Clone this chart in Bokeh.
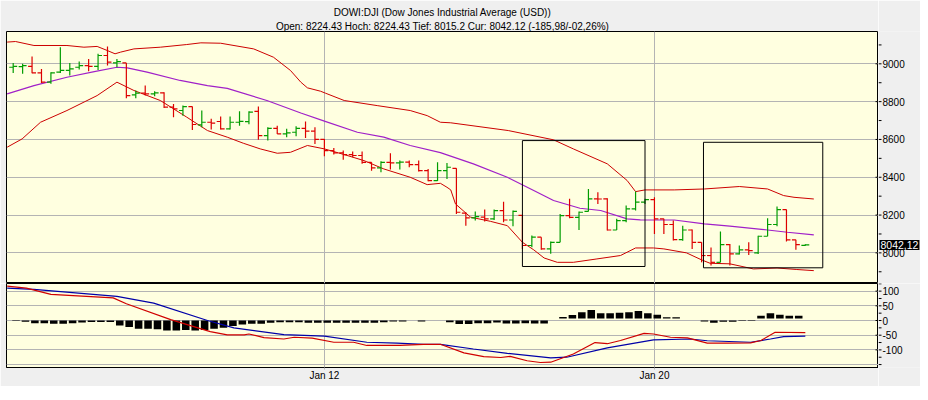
import numpy as np
from bokeh.plotting import figure
from bokeh.models import Range1d, FixedTicker, Grid, Title, Label, ColumnDataSource
from bokeh.layouts import column, row
from bokeh.embed import file_html
from bokeh.resources import INLINE
from bokeh.transform import dodge
from bokeh.core.properties import value

# ---------------- data ----------------
title_line1 = "DOWI:DJI (Dow Jones Industrial Average (USD))"
title_line2 = "Open: 8224.43 Hoch: 8224.43 Tief: 8015.2 Cur: 8042.12 (-185,98/-02,26%)"

# hourly OHLC bars (index 0..84)
bar_open = [8982, 8985, 8986, 8952, 8903, 8956, 8965, 8982, 8991, 8986,
            9044, 9005, 9005, 8836, 8845, 8841, 8846, 8771, 8753, 8774,
            8677, 8691, 8695, 8656, 8691, 8694, 8749, 8620, 8659, 8629,
            8638, 8659, 8644, 8600, 8541, 8529, 8520, 8515, 8479, 8450,
            8479, 8476, 8480, 8467, 8435, 8382, 8435, 8447, 8210, 8185,
            8189, 8180, 8224, 8174, 8198, 8039, 8083, 8021, 8056, 8197,
            8188, 8219, 8286, 8286, 8121, 8171, 8233, 8268, 8282, 8180,
            8150, 8070, 8121, 8056, 7986, 7950, 8044, 7995, 8016, 8000,
            8088, 8150, 8229, 8069, 8040]
bar_high = [9005, 9000, 9039, 8973, 8956, 9088, 9005, 9012, 9026, 9053,
            9092, 9026, 9005, 8859, 8885, 8855, 8850, 8788, 8779, 8774,
            8753, 8709, 8721, 8721, 8749, 8749, 8774, 8665, 8673, 8656,
            8670, 8695, 8665, 8603, 8555, 8541, 8536, 8536, 8479, 8485,
            8527, 8488, 8488, 8488, 8444, 8479, 8476, 8447, 8215, 8219,
            8229, 8229, 8271, 8224, 8201, 8092, 8083, 8060, 8206, 8286,
            8219, 8338, 8321, 8289, 8180, 8250, 8324, 8286, 8294, 8180,
            8171, 8144, 8124, 8056, 8028, 8113, 8047, 8039, 8056, 8091,
            8183, 8245, 8230, 8069, 8046]
bar_low = [8952, 8947, 8950, 8898, 8894, 8952, 8938, 8970, 8961, 8968,
           8991, 8982, 8818, 8818, 8832, 8829, 8767, 8718, 8726, 8650,
           8665, 8652, 8652, 8652, 8673, 8680, 8598, 8594, 8629, 8612,
           8617, 8608, 8576, 8511, 8520, 8492, 8506, 8471, 8435, 8427,
           8441, 8441, 8453, 8430, 8379, 8380, 8391, 8206, 8144, 8171,
           8166, 8174, 8162, 8141, 8021, 8030, 8017, 7995, 8056, 8183,
           8121, 8219, 8259, 8118, 8121, 8162, 8224, 8259, 8100, 8100,
           8065, 8064, 8020, 7950, 7933, 7950, 7933, 7991, 7989, 7994,
           8088, 8141, 8060, 8016, 8038]
bar_close = [8987, 8990, 8952, 8903, 8952, 8965, 8973, 8991, 8986, 9044,
             9009, 9012, 8832, 8845, 8841, 8846, 8771, 8762, 8774, 8679,
             8691, 8686, 8656, 8691, 8696, 8744, 8620, 8659, 8629, 8635,
             8659, 8644, 8600, 8541, 8529, 8520, 8515, 8479, 8450, 8479,
             8476, 8480, 8467, 8435, 8382, 8435, 8453, 8215, 8185, 8192,
             8180, 8224, 8174, 8219, 8039, 8083, 8021, 8056, 8197, 8188,
             8215, 8286, 8285, 8121, 8171, 8233, 8268, 8282, 8180, 8150,
             8070, 8121, 8056, 7986, 7950, 8044, 7995, 8016, 8012, 8088,
             8150, 8229, 8069, 8044, 8042.12]

# Bollinger bands and moving average (vertices: bar index, price)
upper_x = [-0.64, 0.25, 2.2, 5.7, 7.5, 8.9, 10.0, 10.8, 11.4, 12.8, 15.6, 18.4,
           19.9, 22.0, 25.5, 27.6, 29.4, 30.5, 31.2, 32.6, 33.1, 35.1, 38.6,
           42.1, 43.9, 45.3, 46.4, 52.5, 57.3, 59.4, 63.0, 65.1, 66.0, 67.0,
           70.1, 73.3, 77.0, 80.0, 81.7, 82.8, 84.9]
upper_y = [9115, 9118, 9097, 9097, 9088, 9092, 9070, 9053, 9062, 9079, 9088, 9102,
           9111, 9109, 9079, 9035, 8965, 8903, 8873, 8855, 8845, 8806, 8779,
           8753, 8726, 8691, 8688, 8647, 8598, 8550, 8471, 8383, 8324, 8333,
           8333, 8338, 8351, 8338, 8303, 8294, 8285]
lower_x = [-0.64, 0.95, 2.9, 5.7, 8.9, 11.0, 12.8, 15.6, 18.4, 20.6, 22.7, 24.4,
           26.2, 28.0, 29.4, 31.2, 33.0, 35.1, 37.2, 39.3, 42.1, 43.9, 45.3,
           46.0, 46.4, 46.9, 48.5, 50.6, 52.4, 54.0, 55.2, 56.3, 57.7, 59.4,
           61.9, 64.4, 66.0, 67.9, 69.0, 71.4, 73.0, 73.9, 76.0, 78.5, 81.0,
           83.1, 84.9]
lower_y = [8559, 8603, 8691, 8753, 8832, 8903, 8859, 8806, 8718, 8647, 8612, 8580,
           8550, 8527, 8532, 8568, 8550, 8520, 8488, 8444, 8400, 8361, 8368,
           8347, 8333, 8259, 8189, 8167, 8144, 8056, 8016, 7973, 7950, 7950,
           7968, 7986, 8026, 8026, 8021, 8000, 7963, 7945, 7942, 7915, 7920,
           7912, 7906]
ma_x = [-0.64, 2.2, 5.7, 8.6, 11.0, 12.1, 14.2, 17.7, 20.6, 22.7, 26.9, 30.5,
        33.0, 36.5, 39.3, 42.1, 45.3, 48.8, 52.4, 55.2, 57.3, 60.1, 62.3, 65.1,
        66.5, 70.1, 73.3, 76.0, 80.0, 82.1, 84.9]
ma_y = [8841, 8885, 8929, 8959, 8982, 8979, 8956, 8912, 8885, 8870, 8806, 8740,
        8697, 8638, 8612, 8568, 8530, 8471, 8400, 8330, 8277, 8236, 8224, 8180,
        8175, 8174, 8153, 8141, 8121, 8109, 8095]

# signature boxes drawn on the chart (bar index / price)
box_left = [54.0, 73.2]
box_right = [67.0, 85.85]
box_top = [8594, 8585]
box_bottom = [7928, 7921]

# lower panel: histogram per bar, and two lines (vertices)
hist_values = [-2, -4, -9, -9, -11, -11, -9, -7, -5, -5,
               -5, -17, -22, -28, -28, -30, -34, -34, -32, -34,
               -32, -28, -25, -19, -14, -11, -11, -8, -6, -6,
               -6, -8, -8, -8, -8, -8, -8, -8, -8, -6,
               -3, -3, 0, -3, 0, 0, -6, -12, -12, -9,
               -9, -7, -10, -10, -9, -10, -10, 0, 12, 19,
               28, 36, 25, 25, 26, 28, 32, 25, 20, 11,
               11, 0, 0, -3, -8, -4, -4, -2, -2, 16,
               25, 20, 16, 16, 0]
blue_x = [-0.64, 2.2, 11.0, 14.9, 20.6, 23.4, 28.7, 33.0, 37.5, 40.7, 43.5, 45.3,
          48.8, 52.4, 57.0, 58.7, 63.0, 67.9, 71.8, 73.6, 78.2, 80.3, 81.7, 84.0]
blue_y = [110, 106, 82, 59, 0, -25, -48, -53, -74, -77, -81, -81,
          -97, -112, -127, -125, -93, -66, -63, -69, -74, -63, -55, -53]
red_x = [-0.64, 1.4, 4.0, 10.6, 12.0, 16.7, 20.9, 22.7, 24.5, 25.0, 26.6, 28.7,
         29.8, 31.7, 34.0, 36.1, 37.5, 41.0, 43.5, 45.3, 47.8, 49.9, 51.7, 52.7,
         54.5, 55.9, 57.0, 59.4, 61.7, 63.0, 64.4, 66.9, 67.9, 69.7, 71.5, 73.6,
         75.7, 78.2, 79.3, 80.8, 84.0]
red_y = [117, 110, 89, 77, 57, 3, -38, -49, -49, -46, -58, -63,
         -57, -60, -74, -74, -85, -85, -81, -81, -110, -123, -126, -122,
         -137, -143, -142, -114, -75, -79, -68, -44, -46, -57, -59, -77,
         -77, -76, -68, -40, -41]

date_tick_pos = [33, 68]
date_tick_labels = ["Jan 12", "Jan 20"]
price_ticks = [8000, 8200, 8400, 8600, 8800, 9000]
price_minor = [7900, 8100, 8300, 8500, 8700, 8900, 9100]
ind_ticks = [-100, -50, 0, 50, 100]
ind_grid = [-150, -100, -50, 0, 50, 100]
ind_minor = [-150, -125, -75, -25, 25, 75, 125]

# ---------------- style ----------------
FONT = "Liberation Sans"
GREEN = "#009c00"
RED = "#dd0000"
BAND = "#cc0000"
PURPLE = "#a020c8"
GRID = "#b4b4b4"
PLOT_BG = "#ffffe0"
PAGE_BG = "#efefef"
TICK = 0.42
HIST_SHIFT = 0.3
HIST_GAP = 7

X0, X1 = -0.71, 91.76
PX = (X1 - X0) / 872.0          # data units per pixel in x
xr = Range1d(X0, X1)
yr1 = Range1d(7838, 9171)
yr2 = Range1d(-160, 126)

MAIN_W = 878
SIDE_W = 42
LEFT = 6
TOP = 31
H1 = 283
H2 = 103
BOTTOM = 19


def main_fig(height, y_range, top, bottom, xaxis):
    p = figure(width=MAIN_W, height=height, x_range=xr, y_range=y_range,
               output_backend="svg", toolbar_location=None,
               x_axis_location="below" if xaxis else None, y_axis_location=None,
               min_border_left=LEFT, min_border_right=0, min_border_top=top,
               min_border_bottom=bottom)
    p.background_fill_color = PLOT_BG
    p.border_fill_color = PAGE_BG
    p.outline_line_color = "black"
    p.outline_line_width = 1
    p.xgrid.visible = False
    p.ygrid.visible = False
    p.add_layout(Grid(dimension=0, ticker=FixedTicker(ticks=date_tick_pos),
                      grid_line_color=GRID))
    return p


def side_fig(height, y_range, top, bottom, ticks, minor):
    s = figure(width=SIDE_W, height=height, x_range=Range1d(0, SIDE_W), y_range=y_range,
               output_backend="svg", toolbar_location=None,
               x_axis_location=None, y_axis_location=None,
               min_border_left=0, min_border_right=0, min_border_top=top,
               min_border_bottom=bottom)
    s.background_fill_color = PAGE_BG
    s.border_fill_color = PAGE_BG
    s.outline_line_color = None
    s.xgrid.visible = False
    s.ygrid.visible = False
    s.segment(x0=0, x1=3, y0=ticks, y1=ticks, line_color="black", line_width=1)
    s.segment(x0=0, x1=3, y0=minor, y1=minor, line_color="black", line_width=1)
    s.text(x=4, y=ticks, text=[str(t) for t in ticks], text_font=value(FONT),
           text_font_size="10px", text_color="black", text_baseline="middle",
           text_align="left")
    return s


p1 = main_fig(H1, yr1, TOP, 0, False)
p2 = main_fig(H2, yr2, 0, BOTTOM, True)
s1 = side_fig(H1, yr1, TOP, 0, price_ticks, price_minor)
s2 = side_fig(H2, yr2, 0, BOTTOM, ind_ticks, ind_minor)

# horizontal grids + inward tick marks
p1.add_layout(Grid(dimension=1, ticker=FixedTicker(ticks=price_ticks), grid_line_color=GRID))
p2.add_layout(Grid(dimension=1, ticker=FixedTicker(ticks=ind_grid), grid_line_color=GRID))
p1.segment(x0=X1 - 3 * PX, x1=X1, y0=price_ticks, y1=price_ticks, line_color="black")
p2.segment(x0=X1 - 3 * PX, x1=X1, y0=ind_ticks, y1=ind_ticks, line_color="black")

xa = p2.xaxis[0]
xa.ticker = FixedTicker(ticks=date_tick_pos)
xa.major_label_overrides = {pos: lab for pos, lab in zip(date_tick_pos, date_tick_labels)}
xa.axis_line_color = "black"
xa.major_tick_in = 0
xa.major_tick_out = 2
xa.major_tick_line_color = GRID
xa.major_label_text_font = FONT
xa.major_label_text_font_size = "10px"
xa.major_label_text_color = "black"
xa.major_label_standoff = 0

# titles
p1.add_layout(Title(text=title_line2, align="center", text_font=FONT,
                    text_font_size="10px", text_font_style="normal",
                    text_color="black", standoff=0), "above")
p1.add_layout(Title(text=title_line1, align="center", text_font=FONT,
                    text_font_size="10px", text_font_style="normal",
                    text_color="black", standoff=1), "above")

# ---------------- upper panel ----------------
o = np.array(bar_open, dtype=float)
c = np.array(bar_close, dtype=float)
idx = np.arange(len(o))
colors = np.where(c >= o, GREEN, RED)
src = ColumnDataSource(dict(x=idx, o=o, h=bar_high, l=bar_low, c=c, color=colors))

p1.line(upper_x, upper_y, line_color=BAND, line_width=1)
p1.line(lower_x, lower_y, line_color=BAND, line_width=1)
p1.line(ma_x, ma_y, line_color=PURPLE, line_width=1.2)

p1.segment(x0="x", y0="l", x1="x", y1="h", line_color="color", line_width=1.2, source=src)
p1.segment(x0=dodge("x", -TICK, range=xr), y0="o", x1="x", y1="o",
           line_color="color", line_width=1.2, source=src)
p1.segment(x0="x", y0="c", x1=dodge("x", TICK, range=xr), y1="c",
           line_color="color", line_width=1.2, source=src)

p1.quad(left=box_left, right=box_right, top=box_top, bottom=box_bottom,
        fill_alpha=0, line_color="black", line_width=1)

last = bar_close[-1]
s1.add_layout(Label(x=1, y=last, text=f"{last:.2f}".replace(".", ","),
                    text_font=FONT, text_font_size="10.5px", text_color="white",
                    text_baseline="middle", text_align="left",
                    background_fill_color="black", padding=1))

# ---------------- lower panel ----------------
hv = np.array(hist_values, dtype=float)
hsrc = ColumnDataSource(dict(x=idx, top=hv, bottom=np.where(hv > 0, HIST_GAP, 0)))
p2.vbar(x=dodge("x", HIST_SHIFT, range=xr), width=0.8, top="top", bottom="bottom",
        fill_color="black", line_color=None, source=hsrc)
p2.line(blue_x, blue_y, line_color="#0000a8", line_width=1.2)
p2.line(red_x, red_y, line_color="#d00000", line_width=1.2)

layout = column(row(p1, s1, spacing=0), row(p2, s2, spacing=0), spacing=0)
open("out.html", "w").write(file_html(layout, INLINE))
